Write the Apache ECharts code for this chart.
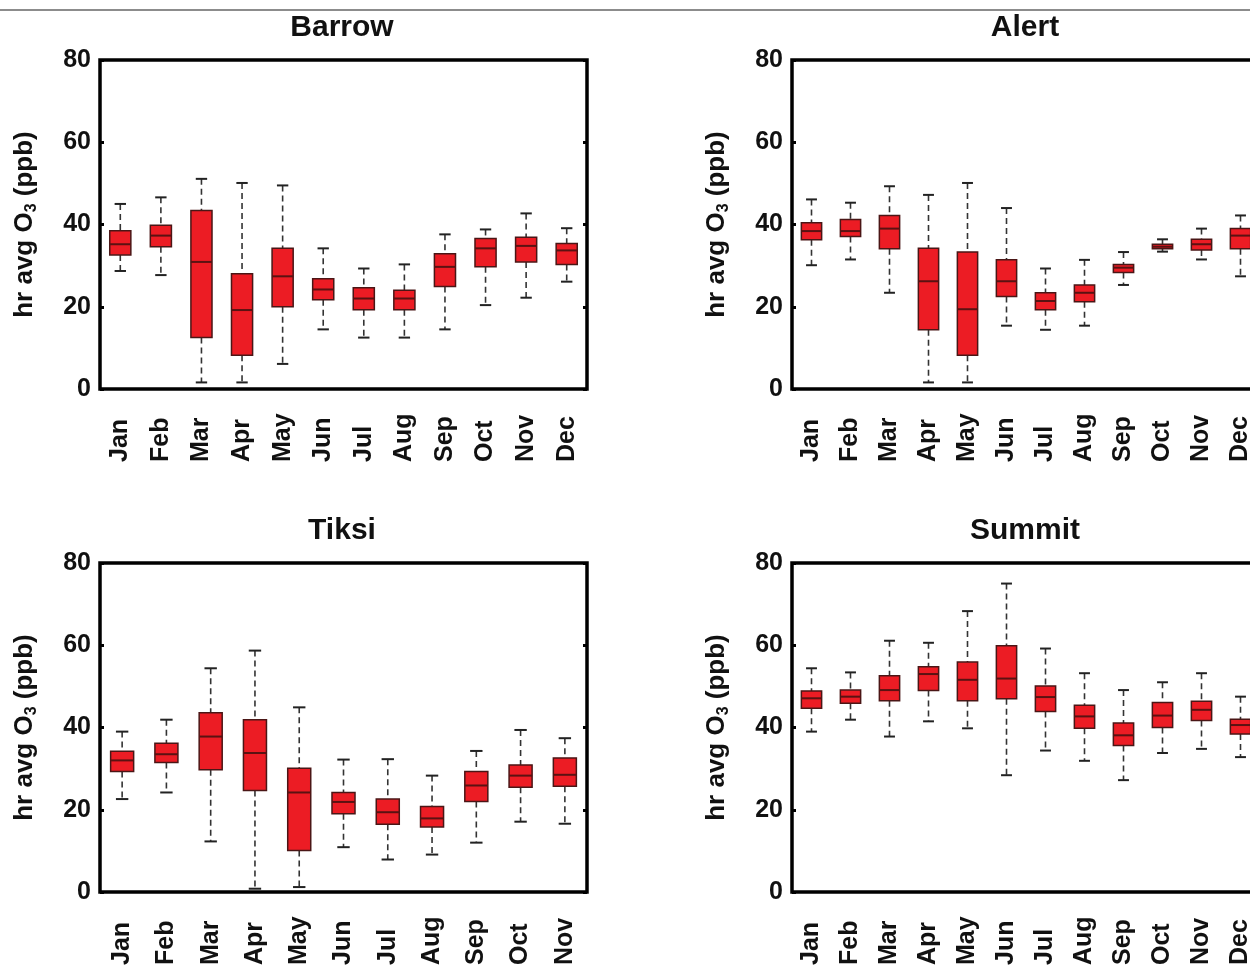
<!DOCTYPE html>
<html>
<head>
<meta charset="utf-8">
<script src="https://cdn.jsdelivr.net/npm/echarts@6/dist/echarts.min.js"></script>
<style>
  html, body { margin: 0; padding: 0; background: #fff; }
  #chart { width: 1250px; height: 966px; }
</style>
</head>
<body>
<div id="chart"></div>
<script>
// Monthly hourly-average ozone statistics per station: [low whisker, Q1, median, Q3, high whisker] in ppb
const months = ['Jan', 'Feb', 'Mar', 'Apr', 'May', 'Jun', 'Jul', 'Aug', 'Sep', 'Oct', 'Nov', 'Dec'];
const tiksiMonths = ['Jan', 'Feb', 'Mar', 'Apr', 'May', 'Jun', 'Jul', 'Aug', 'Sep', 'Oct', 'Nov'];
const yTicks = [0, 20, 40, 60, 80];

const barrow = [
  [28.7, 32.6, 35.2, 38.5, 45.0],
  [27.7, 34.6, 37.3, 39.8, 46.6],
  [1.6, 12.5, 30.9, 43.4, 51.1],
  [1.6, 8.2, 19.2, 28.0, 50.1],
  [6.1, 20.0, 27.4, 34.2, 49.5],
  [14.5, 21.7, 24.2, 26.8, 34.2],
  [12.5, 19.3, 22.0, 24.6, 29.3],
  [12.5, 19.3, 22.0, 24.0, 30.3],
  [14.5, 24.9, 29.7, 32.9, 37.6],
  [20.4, 29.7, 34.2, 36.6, 38.8],
  [22.2, 30.9, 34.8, 36.9, 42.7],
  [26.1, 30.3, 33.7, 35.4, 39.1]
];

const alert = [
  [30.1, 36.3, 38.4, 40.4, 46.1],
  [31.5, 37.1, 38.4, 41.2, 45.3],
  [23.4, 34.1, 39.0, 42.2, 49.3],
  [1.6, 14.4, 26.2, 34.2, 47.2],
  [1.6, 8.2, 19.4, 33.3, 50.1],
  [15.4, 22.5, 26.2, 31.4, 44.0],
  [14.4, 19.3, 21.4, 23.4, 29.3],
  [15.4, 21.2, 23.4, 25.3, 31.4],
  [25.3, 28.3, 29.5, 30.3, 33.3],
  [33.4, 34.1, 34.6, 35.2, 36.4],
  [31.5, 33.8, 35.2, 36.4, 39.0],
  [27.4, 34.1, 37.3, 39.0, 42.2]
];

const tiksi = [
  [22.6, 29.3, 32.0, 34.2, 39.0],
  [24.2, 31.5, 33.5, 36.2, 41.9],
  [12.3, 29.7, 37.8, 43.6, 54.4],
  [0.8, 24.7, 33.8, 41.9, 58.7],
  [1.2, 10.1, 24.2, 30.1, 44.9],
  [10.9, 19.0, 21.9, 24.2, 32.2],
  [7.9, 16.5, 19.4, 22.6, 32.3],
  [9.1, 15.8, 17.9, 20.8, 28.3],
  [12.0, 22.0, 25.9, 29.3, 34.3],
  [17.1, 25.5, 28.3, 30.9, 39.4],
  [16.6, 25.7, 28.5, 32.6, 37.4]
];

const summit = [
  [39.0, 44.7, 47.1, 48.9, 54.4],
  [41.9, 45.9, 47.5, 49.1, 53.4],
  [37.8, 46.5, 49.1, 52.6, 61.1],
  [41.5, 49.0, 53.0, 54.8, 60.6],
  [39.8, 46.5, 51.6, 55.9, 68.3],
  [28.4, 47.0, 51.9, 59.9, 75.0],
  [34.4, 43.9, 47.4, 50.1, 59.2],
  [31.9, 39.8, 42.7, 45.4, 53.2],
  [27.2, 35.6, 38.1, 41.1, 49.1],
  [33.8, 40.0, 42.9, 46.1, 51.0],
  [34.8, 41.7, 44.3, 46.4, 53.2],
  [32.8, 38.4, 40.6, 42.0, 47.5]
];

const stations = [
  { name: 'Barrow', cats: months, stats: barrow, left: 100, top: 60, width: 487 },
  { name: 'Alert', cats: months, stats: alert, left: 792, top: 60, width: 468 },
  { name: 'Tiksi', cats: tiksiMonths, stats: tiksi, left: 100, top: 563, width: 487 },
  { name: 'Summit', cats: months, stats: summit, left: 792, top: 563, width: 468 }
];

const FONT = '"Liberation Sans", Arial, Helvetica, sans-serif';
const PLOT_H = 329;
const TITLE_CENTER = [343, 1026, 343, 1026];

// Box with dashed whiskers, solid caps and a median bar, placed via the axis scales
function renderBox(params, api) {
  const x = api.value(0);
  const lo = api.coord([x, api.value(1)]);
  const q1 = api.coord([x, api.value(2)]);
  const md = api.coord([x, api.value(3)]);
  const q3 = api.coord([x, api.value(4)]);
  const hi = api.coord([x, api.value(5)]);
  const band = api.size([1, 0])[0];
  const bw = band * 0.52;
  const cw = band * 0.28;
  const cx = lo[0];
  const dash = { stroke: '#333', lineWidth: 1.6, lineDash: [6, 4] };
  const cap = { stroke: '#222', lineWidth: 2 };
  return {
    type: 'group',
    children: [
      { type: 'line', shape: { x1: cx, y1: hi[1], x2: cx, y2: q3[1] }, style: dash },
      { type: 'line', shape: { x1: cx, y1: q1[1], x2: cx, y2: lo[1] }, style: dash },
      { type: 'line', shape: { x1: cx - cw / 2, y1: hi[1], x2: cx + cw / 2, y2: hi[1] }, style: cap },
      { type: 'line', shape: { x1: cx - cw / 2, y1: lo[1], x2: cx + cw / 2, y2: lo[1] }, style: cap },
      { type: 'rect', shape: { x: cx - bw / 2, y: q3[1], width: bw, height: q1[1] - q3[1] },
        style: { fill: '#ec1c24', stroke: '#4a1616', lineWidth: 1.5 } },
      { type: 'line', shape: { x1: cx - bw / 2, y1: md[1], x2: cx + bw / 2, y2: md[1] },
        style: { stroke: '#5a1212', lineWidth: 2 } }
    ]
  };
}

const grid = [], xAxis = [], yAxis = [], series = [], title = [];

stations.forEach((st, i) => {
  grid.push({
    left: st.left, top: st.top, width: st.width, height: PLOT_H,
    outerBoundsMode: 'none', containLabel: false,
    show: true, borderColor: '#000', borderWidth: 3.5, backgroundColor: '#fff'
  });
  title.push({
    text: st.name,
    left: TITLE_CENTER[i] - 6,
    top: st.top - 52,
    textAlign: 'center',
    textStyle: { fontFamily: FONT, fontWeight: 'bold', fontSize: 30, color: '#111' }
  });
  xAxis.push({
    type: 'category', gridIndex: i, data: st.cats, boundaryGap: true,
    axisLine: { show: false }, axisTick: { show: false }, splitLine: { show: false },
    axisLabel: {
      rotate: 90, align: 'left', verticalAlign: 'middle', margin: 73, interval: 0,
      fontFamily: FONT, fontWeight: 'bold', fontSize: 25, color: '#111'
    }
  });
  yAxis.push({
    type: 'value', gridIndex: i, min: yTicks[0], max: yTicks[yTicks.length - 1], interval: 20,
    name: '{a|hr avg O}{s|3}{a| (ppb)}',
    nameLocation: 'middle', nameRotate: 90, nameGap: 60,
    nameTextStyle: {
      rich: {
        a: { fontFamily: FONT, fontWeight: 'bold', fontSize: 26, color: '#111', lineHeight: 30 },
        s: { fontFamily: FONT, fontWeight: 'bold', fontSize: 16, color: '#111', lineHeight: 30, verticalAlign: 'bottom' }
      }
    },
    axisLine: { show: false }, splitLine: { show: false },
    axisTick: { show: true, inside: true, length: 4, lineStyle: { color: '#000', width: 3 } },
    axisLabel: { margin: 9, fontFamily: FONT, fontWeight: 'bold', fontSize: 25, color: '#111' }
  });
  yAxis.push({
    type: 'value', gridIndex: i, position: 'right', min: yTicks[0], max: yTicks[yTicks.length - 1], interval: 20,
    axisLine: { show: false }, splitLine: { show: false }, axisLabel: { show: false },
    axisTick: { show: true, inside: true, length: 4, lineStyle: { color: '#000', width: 3 } }
  });
  series.push({
    type: 'custom', name: st.name, xAxisIndex: i, yAxisIndex: i * 2,
    renderItem: renderBox,
    encode: { x: 0, y: [1, 2, 3, 4, 5] },
    data: st.stats.map((s, k) => [k].concat(s)),
    clip: false, silent: true
  });
});

const chart = echarts.init(document.getElementById('chart'), null, { renderer: 'canvas' });
chart.setOption({
  animation: false,
  backgroundColor: '#fff',
  title, grid, xAxis, yAxis, series,
  graphic: [{
    type: 'line', shape: { x1: 0, y1: 10, x2: 1250, y2: 10 },
    style: { stroke: '#666', lineWidth: 1.5 }, z: 10
  }]
});
</script>
</body>
</html>
